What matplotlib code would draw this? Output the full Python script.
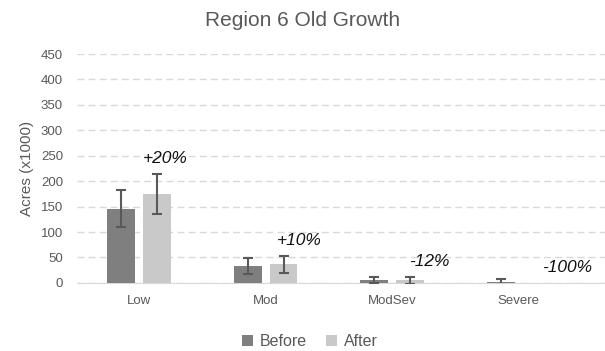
import numpy as np
import matplotlib.pyplot as plt

plt.rcParams['font.family'] = ['Liberation Sans', 'DejaVu Sans']

categories = ['Low', 'Mod', 'ModSev', 'Severe']
before = [146, 33, 6, 2]
pct_change = [20, 10, -12, -100]
after = [b * (1 + p / 100) for b, p in zip(before, pct_change)]
err_before = [36, 16, 6, 6]
err_after = [39, 17, 7, 0]
pct_labels = ['+20%', '+10%', '-12%', '-100%']

# horizontal nudges (points) for the change labels
label_dx = [-10, -5, -1, 4]

text_col = '#595959'
grid_col = '#d9d9d9'

fig = plt.figure(figsize=(6.05, 3.51), dpi=100)
ax = fig.add_axes([0.127, 0.194, 0.873, 0.652])

x = np.arange(len(categories))
w = 0.22
off = 0.142
ax.bar(x - off, before, w, color='#7f7f7f', label='Before', zorder=3)
ax.bar(x + off, after, w, color='#c9c9c9', label='After', zorder=3)

eb = np.array(err_before, dtype=float)
ea = np.array(err_after, dtype=float)
mb = eb > 0
ma = ea > 0
ax.errorbar((x - off)[mb], np.array(before)[mb], yerr=eb[mb], fmt='none',
            ecolor=text_col, elinewidth=1.5, capsize=3.5, capthick=1.5, zorder=4)
ax.errorbar((x + off)[ma], np.array(after)[ma], yerr=ea[ma], fmt='none',
            ecolor=text_col, elinewidth=1.5, capsize=3.5, capthick=1.5, zorder=4)

for xi, a, e, lab, dx in zip(x, after, err_after, pct_labels, label_dx):
    ax.annotate(lab, (xi + off, a + e), xytext=(dx, 8), textcoords='offset points',
                ha='left', va='baseline', fontsize=12.5, style='italic', color='#111111')

ax.set_xlim(-0.49, 3.68)
ax.set_ylim(0, 450)
ax.set_yticks(range(0, 451, 50))
ax.set_xticks(x)
ax.set_xticklabels(categories)
ax.tick_params(length=0, labelsize=9.5, colors=text_col, pad=9)
ax.tick_params(axis='y', pad=10)
ax.grid(axis='y', color=grid_col, linestyle=(0, (5, 3)), linewidth=1, zorder=0)
for s in ['top', 'right', 'left']:
    ax.spines[s].set_visible(False)
ax.spines['bottom'].set_color(grid_col)
ax.set_ylabel('Acres (x1000)', fontsize=11, color=text_col, labelpad=5)
fig.text(0.5, 1 - 26 / 351, 'Region 6 Old Growth', ha='center', va='baseline',
         fontsize=15, color=text_col)

fig.legend(loc='center', bbox_to_anchor=(0.512, 0.026), ncol=2, frameon=False,
           fontsize=11.5, handlelength=0.7, handleheight=0.7, columnspacing=1.2,
           handletextpad=0.4, labelcolor=text_col)

fig.savefig('out.png', dpi=100)
